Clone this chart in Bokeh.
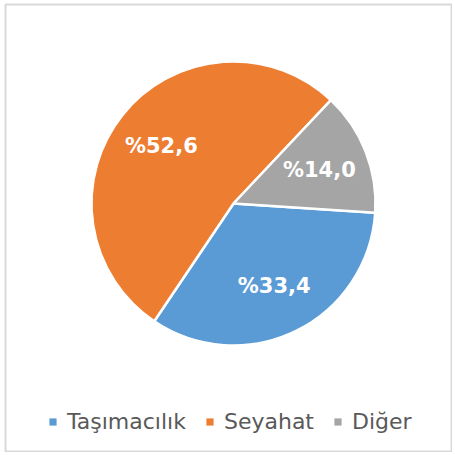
import math
import numpy as np
from bokeh.plotting import figure
from bokeh.models import ColumnDataSource, Range1d, Legend, LegendItem
from bokeh.core.properties import value
from bokeh.embed import file_html
from bokeh.resources import INLINE

categories = ["Taşımacılık", "Seyahat", "Diğer"]
shares = [33.4, 52.6, 14.0]
colors = ["#5B9BD5", "#ED7D31", "#A5A5A5"]

W, H = 452, 452
cx, cy, R = 233, 252, 142
start = math.radians(-3.7)

frac = np.array(shares) / sum(shares)
cum = np.cumsum(frac)
end_cw = start - 2 * math.pi * cum
start_cw = start - 2 * math.pi * (cum - frac)
mid = (end_cw + start_cw) / 2
lr = 0.65 * R

src = ColumnDataSource(dict(
    cat=categories,
    color=colors,
    a0=list(end_cw),
    a1=list(start_cw),
    lx=list(cx + lr * np.cos(mid)),
    ly=list(cy + lr * np.sin(mid)),
    lab=["%" + f"{v:.1f}".replace(".", ",") for v in shares],
))

p = figure(width=W, height=H, output_backend="svg", toolbar_location=None,
           x_range=Range1d(5, W), y_range=Range1d(3, 451),
           min_border=0, min_border_left=5, min_border_right=0,
           min_border_top=4, min_border_bottom=0)
p.axis.visible = False
p.grid.visible = False
p.outline_line_color = "#d9d9d9"
p.outline_line_width = 2
p.background_fill_color = "white"
p.border_fill_color = "white"

w = p.wedge(x=cx, y=cy, radius=R, start_angle="a0", end_angle="a1",
            fill_color="color", line_color="white", line_width=2.5, source=src)

# zero-size proxy used only for the legend swatches
proxy = p.quad(left=cx, right=cx, bottom=cy, top=cy, fill_color="color",
               line_alpha=0, source=src)

p.text(x="lx", y="ly", text="lab", source=src, text_color="white",
       text_font=value("DejaVu Sans"), text_font_style="bold",
       text_font_size="21px", text_align="center", text_baseline="middle")

legend = Legend(items=[LegendItem(label=c, renderers=[proxy], index=i) for i, c in enumerate(categories)],
                orientation="horizontal", location=(43, 18),
                label_text_font="DejaVu Sans", label_text_font_size="22px",
                label_text_color="#595959", glyph_width=9, glyph_height=9,
                label_standoff=10, spacing=19, padding=0, margin=0,
                border_line_alpha=0, background_fill_alpha=0)
p.add_layout(legend, "center")

open("out.html", "w").write(file_html(p, INLINE))
